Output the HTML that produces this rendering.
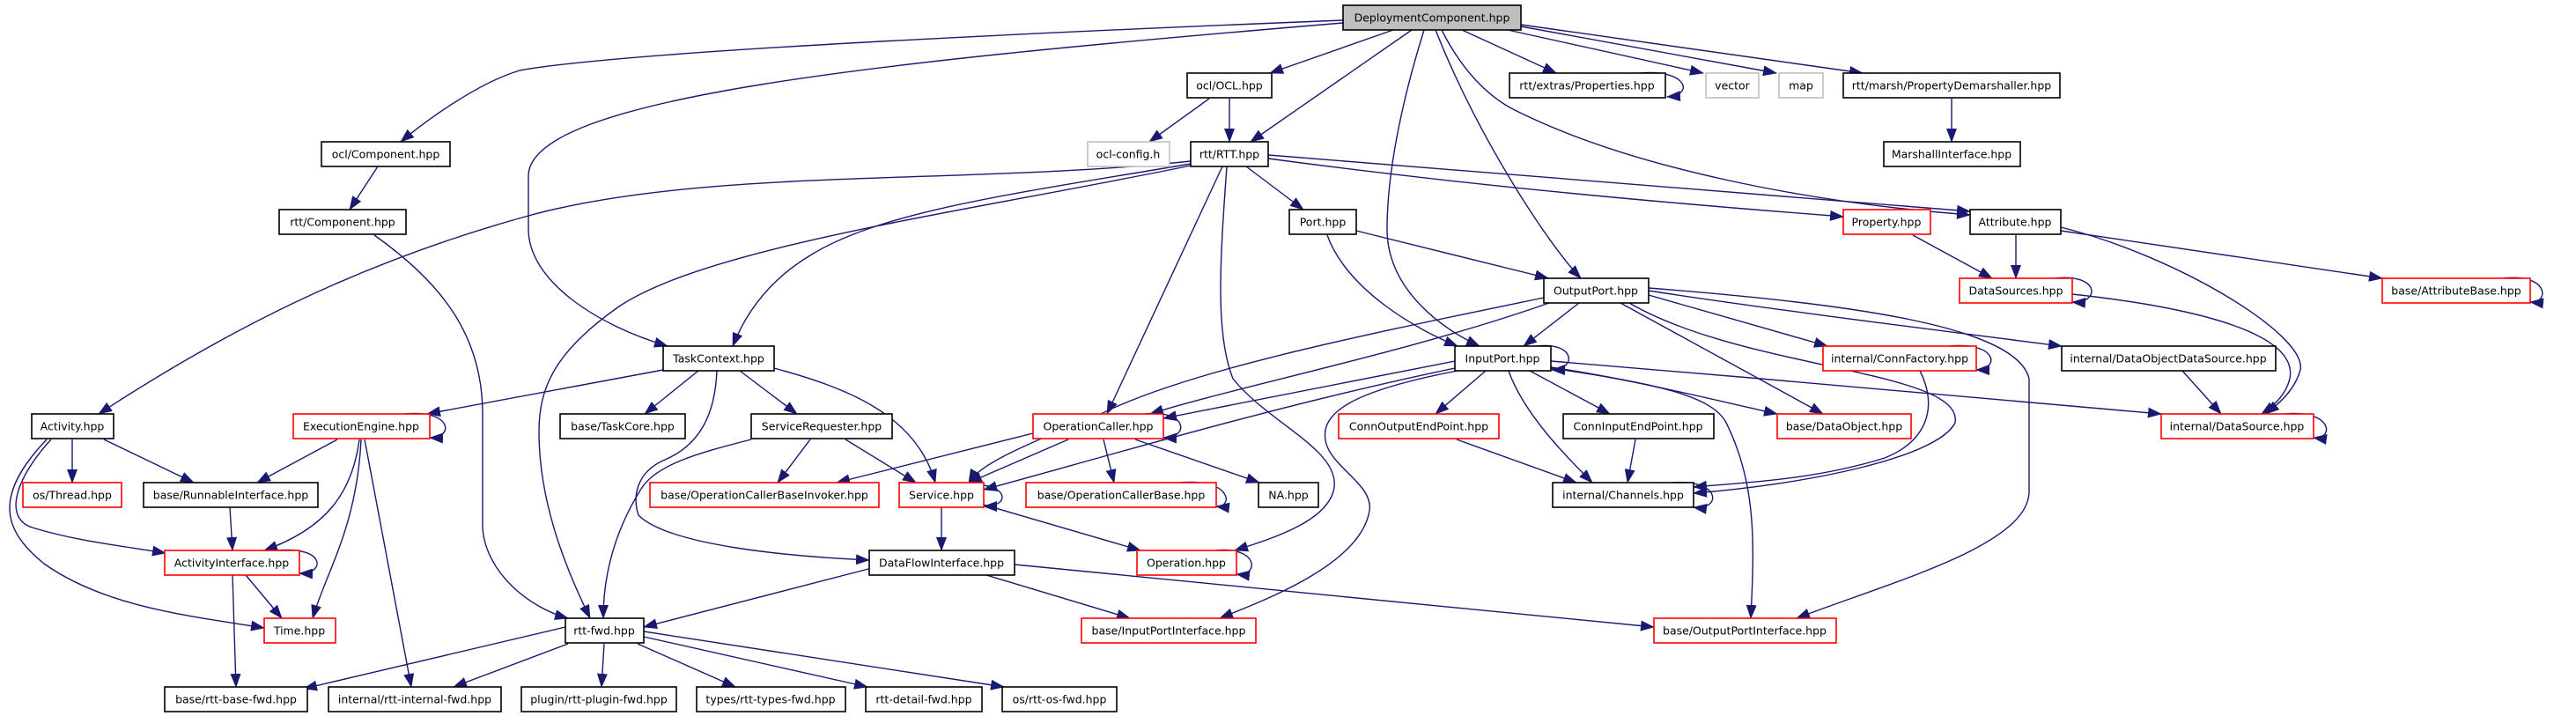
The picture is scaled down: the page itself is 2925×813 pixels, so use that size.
<!DOCTYPE html>
<html><head><meta charset="utf-8"><style>
html,body{margin:0;padding:0;background:#fff;}
svg{display:block;}
text{font-family:"DejaVu Sans","Liberation Sans",sans-serif;font-size:12.5px;fill:#000;text-anchor:middle;}
.e{fill:none;stroke:#191970;stroke-width:1.4;marker-end:url(#a);}
.n{fill:#fff;stroke:#000;stroke-width:1.6;}
.r{fill:#fff;stroke:#ff0000;stroke-width:1.6;}
.g{fill:#fff;stroke:#bfbfbf;stroke-width:1.6;}
</style></head><body>
<svg width="2925" height="813" viewBox="0 0 2925 813" xmlns="http://www.w3.org/2000/svg">
<defs><marker id="a" markerUnits="userSpaceOnUse" markerWidth="16" markerHeight="12" refX="15" refY="6" orient="auto"><path d="M0,0 L16,6 L0,12 z" fill="#191970"/></marker></defs>
<g>
<path class="e" d="M1525,23 C1100,40 700,60 590,80 C540,95 480,140 455,161"/>
<path class="e" d="M1525,26 C1000,70 600,110 600,200 L600,260 C600,320 680,370 758,393"/>
<path class="e" d="M1582,34 L1442,83"/>
<path class="e" d="M1603,34 L1420,161"/>
<path class="e" d="M1617,34 C1590,120 1575,200 1575,260 C1575,330 1640,375 1680,393"/>
<path class="e" d="M1630,34 C1680,160 1760,280 1795,316"/>
<path class="e" d="M1660,34 L1767,83"/>
<path class="e" d="M1712,34 L1934,83"/>
<path class="e" d="M1727,30 L2017,83"/>
<path class="e" d="M1727,28 L2115,83"/>
<path class="e" d="M1637,34 C1660,80 1690,110 1720,125 C1850,190 2050,230 2237,244"/>
<path class="e" d="M1862,83 C1915,78 1925,108 1893,110"/>
<path class="e" d="M2216,112 L2216,161"/>
<path class="e" d="M1373,112 L1305,161"/>
<path class="e" d="M1396,112 L1396,161"/>
<path class="e" d="M429,189 L397,238"/>
<path class="e" d="M425,267 C500,320 548,380 548,470 L548,600 C552,650 600,690 645,702"/>
<path class="e" d="M1352,183 C1100,210 800,190 600,245 C400,300 250,380 112,470"/>
<path class="e" d="M1352,186 C1150,220 1000,240 920,290 C870,320 845,360 832,393"/>
<path class="e" d="M1352,188 C1100,240 800,280 700,350 C630,400 612,440 612,490 C612,580 650,660 670,702"/>
<path class="e" d="M1415,189 L1480,238"/>
<path class="e" d="M1388,189 L1257,470"/>
<path class="e" d="M1393,189 C1385,300 1380,380 1400,430 C1440,480 1520,510 1515,553 C1510,590 1450,610 1402,625"/>
<path class="e" d="M1440,176 C1800,205 2050,225 2237,240"/>
<path class="e" d="M1440,180 C1700,215 1950,235 2093,246"/>
<path class="e" d="M1540,262 L1758,316"/>
<path class="e" d="M1507,267 C1530,330 1610,375 1655,393"/>
<path class="e" d="M2172,267 L2262,316"/>
<path class="e" d="M2289,267 L2289,316"/>
<path class="e" d="M2340,262 L2705,316"/>
<path class="e" d="M2340,258 C2470,290 2620,380 2612,420 C2605,445 2585,460 2573,470"/>
<path class="e" d="M2333,316 C2385,310 2385,345 2353,343"/>
<path class="e" d="M2353,334 C2500,350 2610,380 2600,430 C2595,450 2580,462 2568,470"/>
<path class="e" d="M2842,316 C2895,310 2895,345 2873,343"/>
<path class="e" d="M1793,344 L1730,393"/>
<path class="e" d="M1753,338 C1550,380 1350,420 1250,470 C1150,510 1110,530 1100,548"/>
<path class="e" d="M1759,344 C1600,400 1400,440 1306,470"/>
<path class="e" d="M1840,344 L2070,470"/>
<path class="e" d="M1850,344 C1980,420 2230,420 2220,480 C2200,520 2050,550 1923,560"/>
<path class="e" d="M1872,335 L2075,393"/>
<path class="e" d="M1872,330 C2000,350 2200,375 2341,393"/>
<path class="e" d="M1872,327 C2100,345 2290,370 2304,430 L2304,560 C2300,620 2150,660 2040,702"/>
<path class="e" d="M2180,421 C2200,460 2190,500 2140,520 C2060,545 1980,548 1923,553"/>
<path class="e" d="M1745,393 C1790,388 1790,420 1762,420"/>
<path class="e" d="M1652,410 L1321,475"/>
<path class="e" d="M1652,418 C1450,460 1250,520 1117,556"/>
<path class="e" d="M1687,421 L1630,470"/>
<path class="e" d="M1737,421 L1828,470"/>
<path class="e" d="M1713,421 C1730,470 1780,520 1808,548"/>
<path class="e" d="M1761,417 C1850,430 1950,455 2018,470"/>
<path class="e" d="M1761,410 C2000,430 2300,455 2454,470"/>
<path class="e" d="M1655,421 C1530,445 1500,470 1505,500 C1510,530 1560,550 1555,580 C1545,640 1440,680 1385,702"/>
<path class="e" d="M1761,418 C1880,435 1945,450 1960,480 C1995,550 1992,620 1988,702"/>
<path class="e" d="M1654,499 L1790,548"/>
<path class="e" d="M1857,499 L1848,548"/>
<path class="e" d="M1900,548 C1955,544 1955,580 1923,576"/>
<path class="e" d="M2478,421 L2522,470"/>
<path class="e" d="M2213,393 C2270,388 2270,420 2244,420"/>
<path class="e" d="M2595,470 C2650,465 2650,500 2627,497"/>
<path class="e" d="M753,420 L485,470"/>
<path class="e" d="M793,421 L732,470"/>
<path class="e" d="M840,421 L905,470"/>
<path class="e" d="M879,418 C960,440 1040,470 1062,548"/>
<path class="e" d="M814,421 C812,470 795,505 755,522 C722,536 718,565 725,585 C760,620 900,632 987,636"/>
<path class="e" d="M853,499 C790,515 745,528 728,555 C700,600 685,650 685,702"/>
<path class="e" d="M920,499 L883,548"/>
<path class="e" d="M960,499 L1040,548"/>
<path class="e" d="M460,470 C515,465 515,498 488,497"/>
<path class="e" d="M383,499 L292,548"/>
<path class="e" d="M408,499 C400,560 370,600 300,625"/>
<path class="e" d="M410,499 C405,600 370,650 355,702"/>
<path class="e" d="M414,499 L467,780"/>
<path class="e" d="M82,499 L82,548"/>
<path class="e" d="M118,499 L220,548"/>
<path class="e" d="M58,499 C20,540 0,590 40,600 C90,615 140,620 188,628"/>
<path class="e" d="M53,499 C-5,560 0,600 50,640 C120,690 220,700 300,713"/>
<path class="e" d="M261,576 L264,625"/>
<path class="e" d="M315,625 C370,620 370,652 340,651"/>
<path class="e" d="M279,653 L320,702"/>
<path class="e" d="M264,653 L268,780"/>
<path class="e" d="M1300,470 C1350,465 1350,498 1321,497"/>
<path class="e" d="M1173,492 L950,548"/>
<path class="e" d="M1213,499 L1100,548"/>
<path class="e" d="M1253,499 L1265,548"/>
<path class="e" d="M1289,499 L1430,548"/>
<path class="e" d="M1117,551 C1145,555 1145,575 1117,575"/>
<path class="e" d="M1069,576 L1069,625"/>
<path class="e" d="M1117,573 L1295,625"/>
<path class="e" d="M1340,548 C1400,543 1400,577 1381,575"/>
<path class="e" d="M1380,625 C1430,620 1430,655 1404,652"/>
<path class="e" d="M990,645 L731,712"/>
<path class="e" d="M1120,653 L1283,702"/>
<path class="e" d="M1152,641 L1878,712"/>
<path class="e" d="M642,712 L345,782"/>
<path class="e" d="M645,731 L515,780"/>
<path class="e" d="M686,731 L683,780"/>
<path class="e" d="M724,731 L835,780"/>
<path class="e" d="M731,723 L985,780"/>
<path class="e" d="M731,717 L1140,780"/>
</g>
<g>
<rect x="1525" y="6" width="202" height="28" fill="#bfbfbf" stroke="#000" stroke-width="1.6"/><text x="1626" y="24.5">DeploymentComponent.hpp</text>
<rect class="n" x="1348" y="83" width="96" height="28"/><text x="1396" y="101.5">ocl/OCL.hpp</text>
<rect class="n" x="1714" y="83" width="177" height="28"/><text x="1802" y="101.5">rtt/extras/Properties.hpp</text>
<rect class="g" x="1937" y="83" width="60" height="28"/><text x="1967" y="101.5">vector</text>
<rect class="g" x="2020" y="83" width="50" height="28"/><text x="2045" y="101.5">map</text>
<rect class="n" x="2093" y="83" width="246" height="28"/><text x="2216" y="101.5">rtt/marsh/PropertyDemarshaller.hpp</text>
<rect class="n" x="365" y="161" width="146" height="28"/><text x="438" y="179.5">ocl/Component.hpp</text>
<rect class="g" x="1235" y="161" width="93" height="28"/><text x="1281" y="179.5">ocl-config.h</text>
<rect class="n" x="1352" y="161" width="88" height="28"/><text x="1396" y="179.5">rtt/RTT.hpp</text>
<rect class="n" x="2139" y="161" width="155" height="28"/><text x="2216" y="179.5">MarshallInterface.hpp</text>
<rect class="n" x="317" y="238" width="144" height="28"/><text x="389" y="256.5">rtt/Component.hpp</text>
<rect class="n" x="1464" y="238" width="76" height="28"/><text x="1502" y="256.5">Port.hpp</text>
<rect class="r" x="2093" y="238" width="99" height="28"/><text x="2142" y="256.5">Property.hpp</text>
<rect class="n" x="2237" y="238" width="103" height="28"/><text x="2288" y="256.5">Attribute.hpp</text>
<rect class="n" x="1753" y="316" width="119" height="28"/><text x="1812" y="334.5">OutputPort.hpp</text>
<rect class="r" x="2225" y="316" width="128" height="28"/><text x="2289" y="334.5">DataSources.hpp</text>
<rect class="r" x="2705" y="316" width="168" height="28"/><text x="2789" y="334.5">base/AttributeBase.hpp</text>
<rect class="n" x="753" y="393" width="126" height="28"/><text x="816" y="411.5">TaskContext.hpp</text>
<rect class="n" x="1652" y="393" width="109" height="28"/><text x="1706" y="411.5">InputPort.hpp</text>
<rect class="r" x="2070" y="393" width="174" height="28"/><text x="2157" y="411.5">internal/ConnFactory.hpp</text>
<rect class="n" x="2341" y="393" width="243" height="28"/><text x="2462" y="411.5">internal/DataObjectDataSource.hpp</text>
<rect class="n" x="36" y="470" width="93" height="28"/><text x="82" y="488.5">Activity.hpp</text>
<rect class="r" x="333" y="470" width="155" height="28"/><text x="410" y="488.5">ExecutionEngine.hpp</text>
<rect class="n" x="636" y="470" width="142" height="28"/><text x="707" y="488.5">base/TaskCore.hpp</text>
<rect class="n" x="853" y="470" width="160" height="28"/><text x="933" y="488.5">ServiceRequester.hpp</text>
<rect class="r" x="1173" y="470" width="148" height="28"/><text x="1247" y="488.5">OperationCaller.hpp</text>
<rect class="r" x="1520" y="470" width="182" height="28"/><text x="1611" y="488.5">ConnOutputEndPoint.hpp</text>
<rect class="n" x="1775" y="470" width="171" height="28"/><text x="1860" y="488.5">ConnInputEndPoint.hpp</text>
<rect class="r" x="2018" y="470" width="152" height="28"/><text x="2094" y="488.5">base/DataObject.hpp</text>
<rect class="r" x="2454" y="470" width="173" height="28"/><text x="2540" y="488.5">internal/DataSource.hpp</text>
<rect class="r" x="26" y="548" width="112" height="28"/><text x="82" y="566.5">os/Thread.hpp</text>
<rect class="n" x="163" y="548" width="198" height="28"/><text x="262" y="566.5">base/RunnableInterface.hpp</text>
<rect class="r" x="738" y="548" width="260" height="28"/><text x="868" y="566.5">base/OperationCallerBaseInvoker.hpp</text>
<rect class="r" x="1021" y="548" width="96" height="28"/><text x="1069" y="566.5">Service.hpp</text>
<rect class="r" x="1165" y="548" width="216" height="28"/><text x="1273" y="566.5">base/OperationCallerBase.hpp</text>
<rect class="n" x="1429" y="548" width="68" height="28"/><text x="1463" y="566.5">NA.hpp</text>
<rect class="n" x="1763" y="548" width="160" height="28"/><text x="1843" y="566.5">internal/Channels.hpp</text>
<rect class="r" x="187" y="625" width="153" height="28"/><text x="263" y="643.5">ActivityInterface.hpp</text>
<rect class="n" x="987" y="625" width="165" height="28"/><text x="1069" y="643.5">DataFlowInterface.hpp</text>
<rect class="r" x="1291" y="625" width="113" height="28"/><text x="1347" y="643.5">Operation.hpp</text>
<rect class="r" x="300" y="702" width="81" height="28"/><text x="340" y="720.5">Time.hpp</text>
<rect class="n" x="642" y="702" width="89" height="28"/><text x="686" y="720.5">rtt-fwd.hpp</text>
<rect class="r" x="1228" y="702" width="198" height="28"/><text x="1327" y="720.5">base/InputPortInterface.hpp</text>
<rect class="r" x="1878" y="702" width="207" height="28"/><text x="1981" y="720.5">base/OutputPortInterface.hpp</text>
<rect class="n" x="187" y="780" width="162" height="28"/><text x="268" y="798.5">base/rtt-base-fwd.hpp</text>
<rect class="n" x="373" y="780" width="196" height="28"/><text x="471" y="798.5">internal/rtt-internal-fwd.hpp</text>
<rect class="n" x="592" y="780" width="176" height="28"/><text x="680" y="798.5">plugin/rtt-plugin-fwd.hpp</text>
<rect class="n" x="791" y="780" width="169" height="28"/><text x="875" y="798.5">types/rtt-types-fwd.hpp</text>
<rect class="n" x="983" y="780" width="132" height="28"/><text x="1049" y="798.5">rtt-detail-fwd.hpp</text>
<rect class="n" x="1138" y="780" width="130" height="28"/><text x="1203" y="798.5">os/rtt-os-fwd.hpp</text>
</g>
</svg>
</body></html>
